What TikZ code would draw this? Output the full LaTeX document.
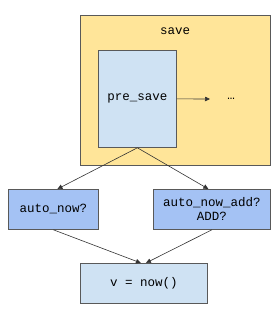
\documentclass[tikz,border=0pt]{standalone}
\usepackage{fontspec}
\setmonofont{Liberation Mono}
\usetikzlibrary{arrows.meta}
\definecolor{saveyel}{HTML}{FFE599}
\definecolor{lblue}{HTML}{CFE2F3}
\definecolor{mblue}{HTML}{A4C2F4}
\definecolor{edgegray}{HTML}{595959}
\tikzset{
  box/.style={draw=edgegray, line width=0.8pt, inner sep=0pt, align=center, font=\ttfamily\fontsize{12.5}{14}\selectfont},
  conn/.style={draw=black!80, line width=0.6pt, -{Triangle[length=5pt,width=4.5pt]}},
}
\begin{document}
\begin{tikzpicture}[x=1pt,y=-1pt]
\useasboundingbox (0,0) rectangle (280,310);
\node[box, fill=saveyel, minimum width=190pt, minimum height=150pt, anchor=north west] (save) at (80,15) {};
\node[font=\ttfamily\fontsize{12.5}{14}\selectfont] (savelbl) at (175,31) {save};
\node[box, fill=lblue, minimum width=78pt, minimum height=97pt, anchor=north west] (pre) at (98,50) {pre\_save};
\node[font=\ttfamily\fontsize{12.5}{14}\selectfont, inner sep=1pt] (dots) at (231,99) {…};
\coordinate (dotsin) at (210,99);
\draw[conn] (pre.east) -- (dotsin);
\node[box, fill=mblue, minimum width=90pt, minimum height=40pt, anchor=north west] (an) at (8,189) {auto\_now?};
\node[box, fill=mblue, minimum width=117pt, minimum height=40pt, anchor=north west] (ana) at (153,189) {auto\_now\_add?\\ADD?};
\node[box, fill=lblue, minimum width=127pt, minimum height=40pt, anchor=north west] (v) at (80,263) {v = now()};
\draw[conn] (pre.south) -- ([xshift=4pt]an.north);
\draw[conn] (pre.south) -- ([xshift=-3.5pt]ana.north);
\draw[conn] ([xshift=0pt]an.south) -- ([xshift=-3pt]v.north);
\draw[conn] ([xshift=0pt]ana.south) -- ([xshift=2pt]v.north);
\end{tikzpicture}
\end{document}
